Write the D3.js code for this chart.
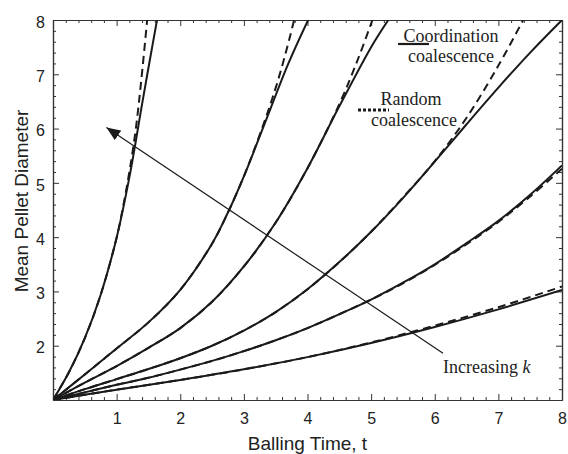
<!DOCTYPE html>
<html>
<head>
<meta charset="utf-8">
<script src="https://cdn.jsdelivr.net/npm/d3@7"></script>
<style>
  body { margin: 0; background: #fff; }
  svg { display: block; }
</style>
</head>
<body>
<svg id="chart"></svg>
<script>
const width = 568;
const height = 454;

// balling time t vs mean pellet diameter, six k values (k1 = largest)
const coord1 = [[0,1],[0.25,1.51],[0.5,2.14],[0.75,2.94],[1,3.99],[1.2,5.1],[1.4,6.45],[1.52,7.25],[1.635,8]];
const random1 = [[0,1],[0.25,1.51],[0.5,2.14],[0.75,2.94],[1,3.99],[1.1,4.55],[1.2,5.2],[1.3,5.98],[1.39,6.92],[1.48,8]];
const coord2 = [[0,1],[0.5,1.47],[1,1.95],[1.5,2.43],[2,3.03],[2.5,3.88],[2.74,4.43],[3,5.12],[3.33,6.1],[3.7,7.2],[4.01,8]];
const random2 = [[0,1],[0.5,1.47],[1,1.95],[1.5,2.43],[2,3.03],[2.5,3.88],[2.74,4.43],[3,5.12],[3.3,6.05],[3.5,6.75],[3.65,7.36],[3.79,8]];
const coord3 = [[0,1],[0.5,1.32],[1,1.625],[1.5,1.96],[2,2.325],[2.5,2.81],[3,3.46],[3.5,4.27],[4,5.27],[4.5,6.41],[5,7.5],[5.27,8]];
const random3 = [[0,1],[0.5,1.32],[1,1.625],[1.5,1.96],[2,2.325],[2.5,2.81],[3,3.46],[3.5,4.27],[4,5.27],[4.5,6.45],[4.8,7.3],[5.02,8]];
const coord4 = [[0,1],[0.5,1.2],[1,1.385],[1.5,1.57],[2,1.77],[2.5,2.0],[3,2.28],[3.5,2.62],[4,3.04],[4.5,3.54],[5,4.1],[5.5,4.72],[6,5.39],[6.5,6.08],[7,6.755],[7.5,7.4],[8,8]];
const random4 = [[0,1],[0.5,1.2],[1,1.385],[1.5,1.57],[2,1.77],[2.5,2.0],[3,2.28],[3.5,2.62],[4,3.04],[4.5,3.54],[5,4.1],[5.5,4.73],[6,5.4],[6.5,6.2],[7,7.16],[7.39,8]];
const coord5 = [[0,1],[0.5,1.14],[1,1.28],[1.5,1.41],[2,1.56],[2.5,1.72],[3,1.9],[3.5,2.1],[4,2.325],[4.5,2.58],[5,2.85],[5.5,3.16],[6,3.5],[6.5,3.89],[7,4.3],[7.5,4.78],[8,5.32]];
const random5 = [[0,1],[0.5,1.14],[1,1.28],[1.5,1.41],[2,1.56],[2.5,1.72],[3,1.9],[3.5,2.1],[4,2.325],[4.5,2.58],[5,2.85],[5.5,3.15],[6,3.49],[6.5,3.87],[7,4.28],[7.5,4.75],[8,5.26]];
const coord6 = [[0,1],[1,1.19],[2,1.37],[3,1.565],[4,1.79],[5,2.05],[6,2.345],[7,2.67],[8,3.025]];
const random6 = [[0,1],[1,1.19],[2,1.37],[3,1.565],[4,1.79],[5,2.06],[6,2.37],[7,2.71],[8,3.09]];

const coordSeries = [coord1, coord2, coord3, coord4, coord5, coord6];
const randomSeries = [random1, random2, random3, random4, random5, random6];

const xTicks = [1,2,3,4,5,6,7,8];
const yTicks = [2,3,4,5,6,7,8];

// arrow "Increasing k": tail -> head, in data units
const arrowTail = [6.13, 1.86];
const arrowHead = [0.84, 6.02];

const mLeft = 53, mRight = 562, mTop = 20, mBottom = 400;

const svg = d3.select('#chart')
    .attr('width', width)
    .attr('height', height);

const x = d3.scaleLinear().domain([0, 8]).range([mLeft, mRight]);
const y = d3.scaleLinear().domain([1, 8]).range([mBottom, mTop]);

const minorX = d3.range(0, 8.001, 0.2).filter(v => Math.abs(v - Math.round(v)) > 0.01);
const minorY = d3.range(1, 8.001, 0.2).filter(v => Math.abs(v - Math.round(v)) > 0.01);

const defs = svg.append('defs');
defs.append('clipPath')
    .attr('id', 'clip')
  .append('rect')
    .attr('x', mLeft).attr('y', mTop)
    .attr('width', mRight - mLeft).attr('height', mBottom - mTop);

defs.append('marker')
    .attr('id', 'head')
    .attr('viewBox', '0 0 12 10')
    .attr('refX', 12).attr('refY', 5)
    .attr('markerWidth', 14).attr('markerHeight', 12)
    .attr('markerUnits', 'userSpaceOnUse')
    .attr('orient', 'auto')
  .append('path')
    .attr('d', 'M0,0 L12,5 L0,10 Z')
    .attr('fill', '#1a1a1a');

const axisColour = '#333';
const styleAxis = g => {
  g.select('.domain').attr('stroke', axisColour).attr('stroke-width', 1.2);
  g.selectAll('.tick line').attr('stroke', axisColour).attr('stroke-width', 1);
  g.selectAll('text')
      .attr('font-family', '"Liberation Sans", Arial, sans-serif')
      .attr('font-size', 16)
      .attr('fill', '#222');
};

// bottom / left with labels
svg.append('g')
    .attr('transform', `translate(0,${mBottom})`)
    .call(d3.axisBottom(x).tickValues(xTicks).tickFormat(d3.format('d'))
      .tickSizeInner(-6).tickSizeOuter(0).tickPadding(13))
    .call(styleAxis);
svg.append('g')
    .attr('transform', `translate(${mLeft},0)`)
    .call(d3.axisLeft(y).tickValues(yTicks).tickFormat(d3.format('d'))
      .tickSizeInner(-6).tickSizeOuter(0).tickPadding(8))
    .call(styleAxis)
    .selectAll('text').attr('dy', '0.45em');

// top / right, ticks only
svg.append('g')
    .attr('transform', `translate(0,${mTop})`)
    .call(d3.axisTop(x).tickValues(xTicks).tickFormat('').tickSizeInner(-6).tickSizeOuter(0))
    .call(styleAxis);
svg.append('g')
    .attr('transform', `translate(${mRight},0)`)
    .call(d3.axisRight(y).tickValues(yTicks).tickFormat('').tickSizeInner(-6).tickSizeOuter(0))
    .call(styleAxis);

// minor ticks on all four sides
[[d3.axisBottom(x), mBottom, minorX, 'y'], [d3.axisTop(x), mTop, minorX, 'y'],
 [d3.axisLeft(y), mLeft, minorY, 'x'], [d3.axisRight(y), mRight, minorY, 'x']]
  .forEach(([ax, pos, vals, dir]) => {
    svg.append('g')
        .attr('transform', dir === 'y' ? `translate(0,${pos})` : `translate(${pos},0)`)
        .call(ax.tickValues(vals).tickFormat('').tickSizeInner(-3).tickSizeOuter(0))
        .call(styleAxis);
  });

// axis titles
svg.append('text')
    .attr('x', (mLeft + mRight) / 2)
    .attr('y', 450)
    .attr('text-anchor', 'middle')
    .attr('font-family', '"Liberation Sans", Arial, sans-serif')
    .attr('font-size', 19)
    .attr('fill', '#222')
    .text('Balling Time, t');
svg.append('text')
    .attr('transform', 'translate(28,201) rotate(-90)')
    .attr('text-anchor', 'middle')
    .attr('font-family', '"Liberation Sans", Arial, sans-serif')
    .attr('font-size', 19)
    .attr('fill', '#222')
    .text('Mean Pellet Diameter');

// curves
const line = d3.line()
    .x(d => x(d[0]))
    .y(d => y(d[1]))
    .curve(d3.curveCatmullRom.alpha(0.5));

const plot = svg.append('g').attr('clip-path', 'url(#clip)');

plot.selectAll('path.random')
  .data(randomSeries)
  .enter()
  .append('path')
    .attr('class', 'random')
    .attr('d', line)
    .attr('fill', 'none')
    .attr('stroke', '#1a1a1a')
    .attr('stroke-width', 2)
    .attr('stroke-dasharray', '8,5');

plot.selectAll('path.coord')
  .data(coordSeries)
  .enter()
  .append('path')
    .attr('class', 'coord')
    .attr('d', line)
    .attr('fill', 'none')
    .attr('stroke', '#1a1a1a')
    .attr('stroke-width', 2);

// increasing-k arrow
svg.append('line')
    .attr('x1', x(arrowTail[0])).attr('y1', y(arrowTail[1]))
    .attr('x2', x(arrowHead[0])).attr('y2', y(arrowHead[1]))
    .attr('stroke', '#1a1a1a')
    .attr('stroke-width', 1.2)
    .attr('marker-end', 'url(#head)');

const serif = '"Liberation Serif", "Times New Roman", serif';
const note = svg.append('text')
    .attr('x', x(6.13))
    .attr('y', y(1.5))
    .attr('font-family', serif)
    .attr('font-size', 18)
    .attr('fill', '#222');
note.append('tspan').text('Increasing ');
note.append('tspan').attr('font-style', 'italic').text('k');

// legend
const legend = svg.append('g')
    .attr('font-family', serif)
    .attr('font-size', 18)
    .attr('fill', '#222')
    .attr('text-anchor', 'middle');
legend.append('text').attr('x', 451).attr('y', 42).text('Coordination');
legend.append('text').attr('x', 451).attr('y', 62).text('coalescence');
legend.append('line')
    .attr('x1', 398).attr('x2', 429).attr('y1', 44).attr('y2', 44)
    .attr('stroke', '#1a1a1a').attr('stroke-width', 2.2);
legend.append('text').attr('x', 411).attr('y', 105).text('Random');
legend.append('text').attr('x', 414).attr('y', 126).text('coalescence');
legend.append('line')
    .attr('x1', 358).attr('x2', 389).attr('y1', 110).attr('y2', 110)
    .attr('stroke', '#1a1a1a').attr('stroke-width', 3)
    .attr('stroke-dasharray', '3,2');
</script>
</body>
</html>
